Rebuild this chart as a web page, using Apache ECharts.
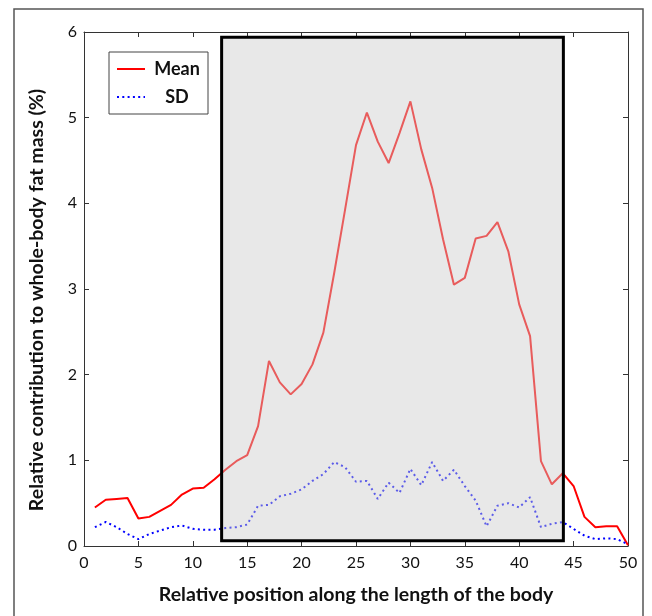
<!DOCTYPE html>
<html>
<head>
<meta charset="utf-8">
<script src="https://cdn.jsdelivr.net/npm/echarts@6/dist/echarts.min.js"></script>
<style>
html,body{margin:0;padding:0;background:#fff;}
#chart{width:652px;height:616px;}
</style>
</head>
<body>
<div id="chart"></div>
<script>
// Relative position along the body (1..50)
const positions = [1,2,3,4,5,6,7,8,9,10,11,12,13,14,15,16,17,18,19,20,21,22,23,24,25,26,27,28,29,30,31,32,33,34,35,36,37,38,39,40,41,42,43,44,45,46,47,48,49,50];
// Mean relative contribution (%)
const meanValues = [0.45,0.54,0.55,0.56,0.32,0.34,0.41,0.48,0.60,0.67,0.68,0.78,0.89,0.99,1.06,1.40,2.16,1.91,1.77,1.89,2.12,2.49,3.19,3.93,4.68,5.06,4.72,4.47,4.82,5.19,4.63,4.18,3.58,3.05,3.13,3.59,3.62,3.78,3.44,2.82,2.45,0.99,0.72,0.85,0.70,0.34,0.22,0.23,0.23,0.01];
// Standard deviation (%)
const sdValues = [0.22,0.28,0.22,0.14,0.08,0.14,0.18,0.22,0.24,0.20,0.19,0.19,0.21,0.22,0.25,0.47,0.48,0.58,0.61,0.66,0.76,0.84,0.98,0.92,0.75,0.76,0.55,0.74,0.62,0.90,0.71,0.98,0.76,0.89,0.70,0.53,0.23,0.47,0.50,0.45,0.57,0.22,0.26,0.28,0.20,0.12,0.08,0.09,0.08,0.02];
// Highlighted region (x range and y range)
const boxX = [12.65, 44.06];
const boxY = [0.06, 5.94];
// Axis ticks
const xTicks = [0, 50, 5];
const yTicks = [0, 6, 1];
const seriesNames = ['Mean', 'SD'];

const chart = echarts.init(document.getElementById('chart'), null, {renderer: 'canvas'});
const fontFam = 'Lato, "Noto Sans", sans-serif';
const meanData = positions.map((p, i) => [p, meanValues[i]]);
const sdData = positions.map((p, i) => [p, sdValues[i]]);

const option = {
  animation: false,
  backgroundColor: '#fff',
  grid: {left: 84, right: 24, top: 32, bottom: 70, containLabel: false},
  graphic: [{
    type: 'rect', silent: true, z: -1,
    shape: {x: 14, y: 9, width: 629, height: 620},
    style: {fill: 'none', stroke: '#555', lineWidth: 1.5}
  }],
  legend: {
    data: seriesNames,
    orient: 'vertical',
    left: 109, top: 52,
    padding: [8, 4, 8, 7],
    itemWidth: 28, itemHeight: 14, itemGap: 10,
    borderColor: '#444', borderWidth: 1,
    backgroundColor: '#fff',
    itemStyle: {opacity: 0},
    formatter: '{a|{name}}',
    textStyle: {
      rich: {a: {width: 54, align: 'center', fontFamily: fontFam, fontWeight: 'bold', fontSize: 18, color: '#111', lineHeight: 20}}
    }
  },
  xAxis: [{
    type: 'value', min: xTicks[0], max: xTicks[1], interval: xTicks[2],
    position: 'bottom',
    name: 'Relative position along the length of the body',
    nameLocation: 'middle', nameGap: 39,
    nameTextStyle: {fontFamily: fontFam, fontWeight: 'bold', fontSize: 19.5, color: '#111'},
    axisLine: {show: true, onZero: false, lineStyle: {color: '#333', width: 1}},
    axisTick: {show: true, inside: true, length: 5, lineStyle: {color: '#333'}},
    axisLabel: {margin: 9, fontFamily: fontFam, fontSize: 16, color: '#111'},
    splitLine: {show: false}
  }, {
    type: 'value', min: xTicks[0], max: xTicks[1], interval: xTicks[2],
    position: 'top',
    axisLine: {show: true, onZero: false, lineStyle: {color: '#333', width: 1}},
    axisTick: {show: true, inside: true, length: 5, lineStyle: {color: '#333'}},
    axisLabel: {show: false},
    splitLine: {show: false}
  }],
  yAxis: [{
    type: 'value', min: yTicks[0], max: yTicks[1], interval: yTicks[2],
    position: 'left',
    name: 'Relative contribution to whole-body fat mass (%)',
    nameLocation: 'middle', nameGap: 37, nameRotate: 90,
    nameTextStyle: {fontFamily: fontFam, fontWeight: 'bold', fontSize: 19.5, color: '#111', padding: [0, 22, 0, 0]},
    axisLine: {show: true, onZero: false, lineStyle: {color: '#333', width: 1}},
    axisTick: {show: true, inside: true, length: 5, lineStyle: {color: '#333'}},
    axisLabel: {margin: 7, fontFamily: fontFam, fontSize: 16, color: '#111'},
    splitLine: {show: false}
  }, {
    type: 'value', min: yTicks[0], max: yTicks[1], interval: yTicks[2],
    position: 'right',
    axisLine: {show: true, onZero: false, lineStyle: {color: '#333', width: 1}},
    axisTick: {show: true, inside: true, length: 5, lineStyle: {color: '#333'}},
    axisLabel: {show: false},
    splitLine: {show: false}
  }],
  series: [{
    name: seriesNames[0], type: 'line', data: meanData, z: 2,
    symbol: 'none', smooth: false,
    lineStyle: {color: '#ff0000', width: 2},
    itemStyle: {color: '#ff0000'}
  }, {
    name: seriesNames[1], type: 'line', data: sdData, z: 2,
    symbol: 'none', smooth: false,
    lineStyle: {color: '#0000ff', width: 2, type: [2, 3.3]},
    itemStyle: {color: '#0000ff'}
  }, {
    name: 'region', type: 'line', data: [], z: 5, silent: true,
    markArea: {
      silent: true, z: 10,
      itemStyle: {color: 'rgba(205,205,205,0.45)', borderColor: '#000', borderWidth: 3},
      data: [[{coord: [boxX[0], boxY[0]]}, {coord: [boxX[1], boxY[1]]}]]
    }
  }]
};
chart.setOption(option);
</script>
</body>
</html>
